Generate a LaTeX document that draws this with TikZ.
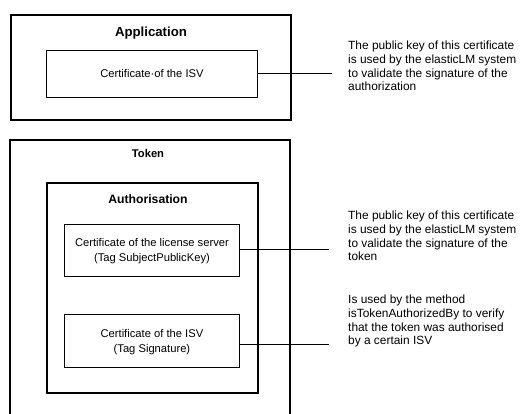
\documentclass[tikz,border=0pt]{standalone}
\usepackage{fontspec}
\setmainfont{Liberation Sans}
\begin{document}
\begin{tikzpicture}[x=1pt,y=-1pt,
  outerbox/.style={draw,line width=1.8pt},
  midbox/.style={draw,line width=1.5pt},
  certbox/.style={draw,line width=0.9pt},
  conn/.style={draw,line width=0.8pt},
  title/.style={font=\bfseries},
  boxtext/.style={align=center,font=\fontsize{11.2}{15}\selectfont,inner sep=0pt},
  note/.style={align=left,anchor=north west,inner sep=0pt,font=\fontsize{11.9}{13.6}\selectfont}]
\useasboundingbox (0,0) rectangle (521,414);
% Application
\node[outerbox,minimum width=280pt,minimum height=105pt,anchor=north west] (app) at (10,14) {};
\node[title,font=\bfseries\fontsize{13.2}{15}\selectfont] (apptitle) at (151,32.7) {Application};
\node[certbox,minimum width=211pt,minimum height=47pt,anchor=north west] (appcert) at (46,50) {};
\node[boxtext] (appcerttext) at (appcert.center) {Certificate·of the ISV};
% Token (open bottom)
\coordinate (tokbl) at (10,416);
\coordinate (tokbr) at (290,416);
\draw[line width=1.8pt] (tokbl) -- (10,140) -- (290,140) -- (tokbr);
\node[font=\bfseries\fontsize{11.2}{13}\selectfont] (toktitle) at (148,153) {Token};
% Authorisation
\node[midbox,minimum width=211pt,minimum height=210pt,anchor=north west] (auth) at (46,182) {};
\node[font=\bfseries\fontsize{12.2}{14}\selectfont] (authtitle) at (148,199) {Authorisation};
\node[certbox,minimum width=175pt,minimum height=52pt,anchor=north west] (lscert) at (64,224) {};
\node[boxtext] (lscerttext) at ([yshift=-0.5pt]lscert.center) {Certificate of the license server\\(Tag SubjectPublicKey)};
\node[certbox,minimum width=175pt,minimum height=53pt,anchor=north west] (isvcert) at (64,314) {};
\node[boxtext] (isvcerttext) at ([yshift=-1pt]isvcert.center) {Certificate of the ISV\\(Tag Signature)};
% Connector ends
\coordinate (e1) at (332,73.5);
\coordinate (e2) at (329,249);
\coordinate (e3) at (329,344);
\draw[conn] (appcert.east |- 0,73.5) -- (e1);
\draw[conn] (lscert.east |- 0,249) -- (e2);
\draw[conn] (isvcert.east |- 0,344) -- (e3);
% Notes
\node[note] (n1) at (348,41) {The public key of this certificate\\is used by the elasticLM system\\to validate the signature of the\\authorization};
\node[note] (n2) at (348,211) {The public key of this certificate\\is used by the elasticLM system\\to validate the signature of the\\token};
\node[note] (n3) at (348,295) {Is used by the method\\isTokenAuthorizedBy to verify\\that the token was authorised\\by a certain ISV};
\end{tikzpicture}
\end{document}
